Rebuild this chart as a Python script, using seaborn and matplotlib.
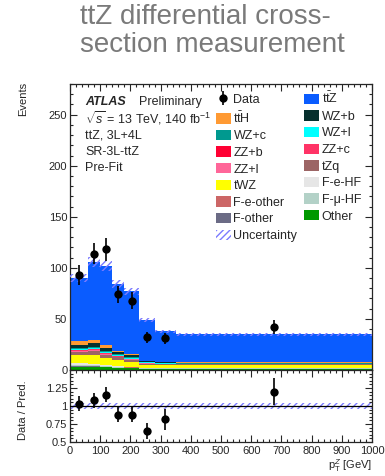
import numpy as np
import pandas as pd
import matplotlib
matplotlib.use("Agg")
import matplotlib.pyplot as plt
from matplotlib.patches import Patch
from matplotlib.lines import Line2D
import seaborn as sns

# ---- binning in pT(Z) [GeV]
bin_edges = [0, 60, 100, 140, 180, 230, 280, 350, 1000]

# ---- observed events per bin
data_counts = [93, 114, 118, 74, 68, 32, 31, 42]

# ---- pre-fit predictions per bin (stack order: top to bottom)
processes = ["ttZ", "ttH", "WZ+b", "WZ+c", "WZ+l", "ZZ+b", "ZZ+c", "ZZ+l",
             "tZq", "tWZ", "F-e-HF", "F-e-other", "F-mu-HF", "F-other", "Other"]
ttZ = [61.5, 76.0, 77.5, 65.0, 61.5, 40.0, 30.0, 27.5]
ttH = [4.0, 3.5, 2.5, 1.5, 1.0, 0.3, 0.3, 0.3]
WZ_b = [3.0, 3.5, 3.0, 2.0, 1.5, 0.5, 0.5, 0.5]
WZ_c = [1.0, 1.2, 1.2, 1.0, 1.2, 0.6, 0.5, 0.4]
WZ_l = [0.8, 0.8, 0.8, 0.8, 1.0, 0.8, 0.6, 0.4]
ZZ_b = [0.6, 0.6, 0.5, 0.3, 0.2, 0.2, 0.1, 0.1]
ZZ_c = [0.6, 0.6, 0.5, 0.3, 0.2, 0.2, 0.1, 0.1]
ZZ_l = [1.2, 1.3, 1.0, 0.7, 0.5, 0.4, 0.3, 0.2]
tZq = [3.0, 3.5, 3.0, 2.5, 2.0, 1.0, 1.0, 0.8]
tWZ = [7.5, 8.5, 7.0, 6.0, 5.0, 3.0, 2.5, 2.5]
F_e_HF = [1.5, 1.2, 0.8, 0.6, 0.5, 0.4, 0.3, 0.3]
F_e_other = [0.6, 0.5, 0.4, 0.3, 0.3, 0.2, 0.2, 0.2]
F_mu_HF = [1.2, 1.0, 0.8, 0.6, 0.5, 0.3, 0.3, 0.3]
F_other = [0.5, 0.5, 0.4, 0.3, 0.3, 0.2, 0.2, 0.2]
Other = [3.0, 3.0, 2.5, 2.0, 1.5, 1.0, 1.0, 1.2]

# relative total uncertainty on the prediction
rel_unc = [0.045, 0.045, 0.045, 0.045, 0.045, 0.045, 0.045, 0.045]

yields = {"ttZ": ttZ, "ttH": ttH, "WZ+b": WZ_b, "WZ+c": WZ_c, "WZ+l": WZ_l,
          "ZZ+b": ZZ_b, "ZZ+c": ZZ_c, "ZZ+l": ZZ_l, "tZq": tZq, "tWZ": tWZ,
          "F-e-HF": F_e_HF, "F-e-other": F_e_other, "F-mu-HF": F_mu_HF,
          "F-other": F_other, "Other": Other}

colors = {"ttZ": "#0a5cff", "ttH": "#ff9a33", "WZ+b": "#06302e",
          "WZ+c": "#00998f", "WZ+l": "#00ffff", "ZZ+b": "#ff0033",
          "ZZ+c": "#ff3366", "ZZ+l": "#ff6699", "tZq": "#9c6565",
          "tWZ": "#ffff00", "F-e-HF": "#e6e6e6", "F-e-other": "#cc6666",
          "F-mu-HF": "#b3d1c7", "F-other": "#6b6b85", "Other": "#009900"}

labels = {"ttZ": r"t$\bar{\rm t}$Z", "ttH": r"t$\bar{\rm t}$H",
          "F-mu-HF": "F-\u03bc-HF"}

edges = np.array(bin_edges, dtype=float)
centers = 0.5 * (edges[:-1] + edges[1:])
data_arr = np.array(data_counts, dtype=float)
total = np.sum([np.array(yields[p]) for p in processes], axis=0)
unc = np.array(rel_unc)

rows = []
for p in processes:
    for c, v in zip(centers, yields[p]):
        rows.append({"pt": c, "events": v, "process": p})
df = pd.DataFrame(rows)

sns.set_style("ticks")
plt.rcParams["font.family"] = ["Liberation Sans", "DejaVu Sans"]
plt.rcParams["mathtext.fontset"] = "custom"
plt.rcParams["mathtext.rm"] = "Liberation Sans"
plt.rcParams["mathtext.it"] = "Liberation Sans:italic"
plt.rcParams["mathtext.bf"] = "Liberation Sans:bold"
plt.rcParams["hatch.linewidth"] = 1.0

fig = plt.figure(figsize=(3.85, 4.76), dpi=100)
ax = fig.add_axes([0.182, 0.2227, 0.784, 0.6008])
rax = fig.add_axes([0.182, 0.0714, 0.784, 0.1513], sharex=ax)

# stacked prediction
sns.histplot(data=df, x="pt", weights="events", hue="process",
             hue_order=processes, palette=colors, bins=bin_edges,
             multiple="stack", element="bars", linewidth=0, alpha=1,
             legend=False, ax=ax)

unc_col = "#7b7bff"
# uncertainty band on total prediction
ystep_lo = np.append(total * (1 - unc), total[-1] * (1 - unc[-1]))
ystep_hi = np.append(total * (1 + unc), total[-1] * (1 + unc[-1]))
ax.fill_between(edges, ystep_lo, ystep_hi, step="post", facecolor="none",
                edgecolor=unc_col, hatch="/////", linewidth=0, zorder=3)

# data
ax.errorbar(centers, data_arr, yerr=np.sqrt(data_arr), fmt="none",
            ecolor="black", elinewidth=1.2, zorder=5)
sns.scatterplot(x=centers, y=data_arr, color="black", s=36, edgecolor="black",
                linewidth=0, zorder=6, ax=ax)

ax.set_xlim(0, 1000)
ax.set_ylim(0, 280)
ax.set_xlabel("")
ax.set_ylabel("")
ax.set_yticks([0, 50, 100, 150, 200, 250])
ax.set_yticks(np.arange(0, 281, 10), minor=True)
ax.set_xticks(np.arange(0, 1001, 100))
ax.set_xticks(np.arange(0, 1001, 20), minor=True)
ax.tick_params(axis="x", labelbottom=False)

# ratio panel
ratio = data_arr / total
ratio_err = np.sqrt(data_arr) / total
rlo = np.append(1 - unc, 1 - unc[-1])
rhi = np.append(1 + unc, 1 + unc[-1])
rax.fill_between(edges, rlo, rhi, step="post", facecolor="none",
                 edgecolor=unc_col, hatch="/////", linewidth=0, zorder=2)
rax.axhline(1.0, color="black", lw=0.9, zorder=3)
rax.errorbar(centers, ratio, yerr=ratio_err, fmt="none", ecolor="black",
             elinewidth=1.2, zorder=5)
sns.scatterplot(x=centers, y=ratio, color="black", s=36, linewidth=0,
                zorder=6, ax=rax)
rax.set_ylim(0.5, 1.5)
rax.set_yticks([0.5, 0.75, 1.0, 1.25])
rax.set_yticklabels(["0.5", "0.75", "1", "1.25"])
rax.set_yticks(np.arange(0.5, 1.501, 0.05), minor=True)
rax.set_xticks(np.arange(0, 1001, 100))
rax.set_xticks(np.arange(0, 1001, 20), minor=True)
rax.set_xlim(0, 1000)

for a in (ax, rax):
    a.tick_params(which="both", direction="in", top=True, right=True,
                  labelsize=8, pad=2, width=0.8)
    a.tick_params(which="major", length=5)
    a.tick_params(which="minor", length=2.5)
    for s in a.spines.values():
        s.set_linewidth(0.9)
rax.tick_params(axis="x", pad=3)

# axis titles
fig.text(0.06, 1 - 82 / 476, "Events", rotation=90, ha="center", va="top",
         fontsize=8)
fig.text(0.06, 1 - 410 / 476, "Data / Pred.", rotation=90, ha="center",
         va="center", fontsize=8)
fig.text(0.966, 0.005, r"p$_{\rm T}^{Z}$ [GeV]", ha="right",
         va="bottom", fontsize=8)

# ATLAS labels
tx = (85 - 70) / 302
y0 = (370 - 102) / 286
dy = 16.6 / 286
ax.text(tx, y0, "ATLAS", transform=ax.transAxes, fontsize=9,
        fontweight="bold", fontstyle="italic", va="center")
ax.text(tx + 0.179, y0, "Preliminary", transform=ax.transAxes, fontsize=9,
        va="center")
info = [r"$\sqrt{s}$ = 13 TeV, 140 fb$^{-1}$", "ttZ, 3L+4L", "SR-3L-ttZ",
        "Pre-Fit"]
for i, t in enumerate(info):
    ax.text(tx, y0 - (i + 1) * dy, t, transform=ax.transAxes,
            fontsize=9, va="center")

# legend (column-major ordering of a row-wise layout)
def lab(p):
    return labels.get(p, p)

data_handle = (Line2D([0], [0], color="black", marker="|", markersize=10,
                      markeredgewidth=1.2, linestyle="none"),
               Line2D([0], [0], color="black", marker="o", markersize=5,
                      linestyle="none"))
unc_handle = Patch(facecolor="none", edgecolor=unc_col, hatch="/////",
                   linewidth=0)
row_items = [("Data", data_handle)] + \
    [(lab(p), Patch(facecolor=colors[p], linewidth=0)) for p in processes] + \
    [("Uncertainty", unc_handle)]
left = row_items[0::2]
right = row_items[1::2]
ordered = left + right
leg = ax.legend([h for _, h in ordered], [l for l, _ in ordered], ncol=2,
                loc="upper left", bbox_to_anchor=(0.475, 0.985),
                frameon=False, fontsize=9, handlelength=1.2,
                handleheight=0.9, handletextpad=0.2, columnspacing=0.55,
                labelspacing=0.33, borderaxespad=0.0, borderpad=0.2)

# title
fig.text(0.208, 1 - 4 / 476, "ttZ differential cross-\nsection measurement",
         ha="left", va="top", fontsize=20, color="#7a7a7a",
         linespacing=1.12)

fig.savefig("out.png", dpi=100)
